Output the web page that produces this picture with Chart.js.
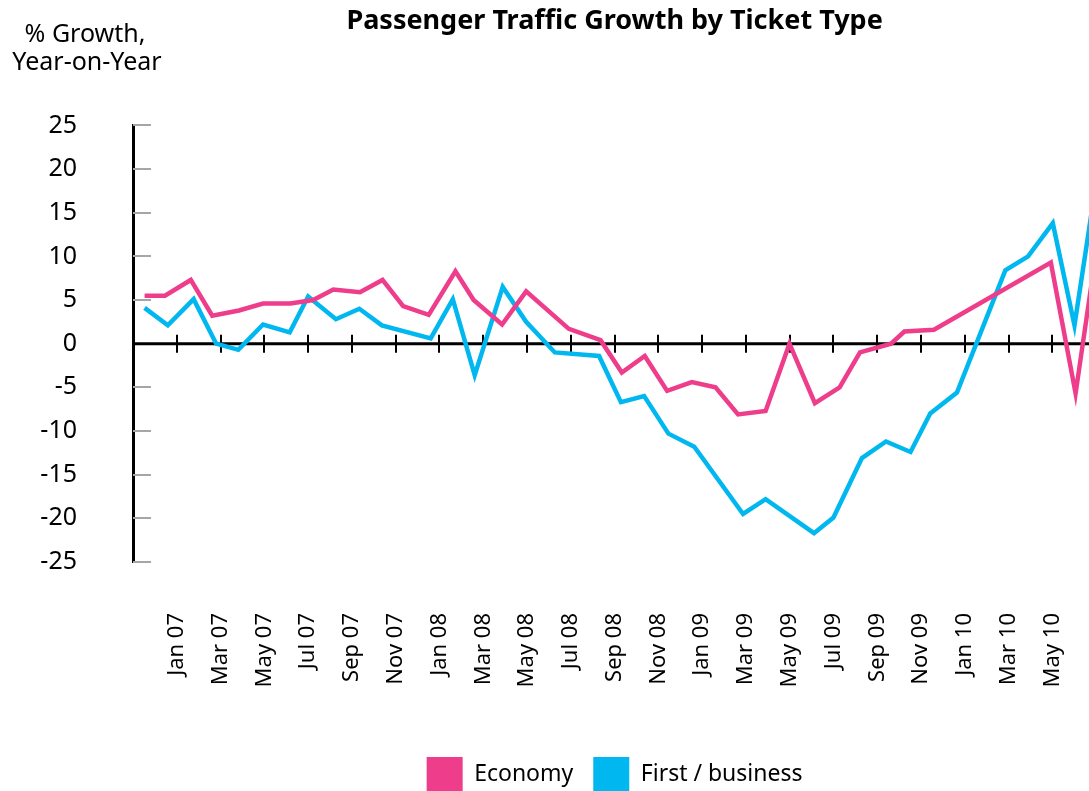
<!DOCTYPE html>
<html>
<head>
<meta charset="utf-8">
<title>Passenger Traffic Growth by Ticket Type</title>
<script src="https://cdn.jsdelivr.net/npm/chart.js@4.4.1/dist/chart.umd.min.js"></script>
<style>
    body { margin: 0; overflow: hidden; background: #fff; }
    #wrap { position: relative; width: 1123px; height: 801px; }
</style>
</head>
<body>
<div id="wrap"><canvas id="growthChart"></canvas></div>
<script>
// months counted from Jan 07 (= 0)
var tickMonths = [0, 2, 4, 6, 8, 10, 12, 14, 16, 18, 20, 22, 24, 26, 28, 30, 32, 34, 36, 38, 40]
var tickLabels = ["Jan 07", "Mar 07", "May 07", "Jul 07", "Sep 07", "Nov 07", "Jan 08", "Mar 08", "May 08", "Jul 08", "Sep 08",
    "Nov 08", "Jan 09", "Mar 09", "May 09", "Jul 09", "Sep 09", "Nov 09", "Jan 10", "Mar 10", "May 10"]

var economyMonths = [-1.47, -0.54, 0.64, 1.62, 2.84, 3.94, 5.19, 6.23, 7.15, 8.37, 9.40, 10.34, 11.51, 12.73, 13.56, 14.86, 15.96, 17.91,
    19.36, 20.33, 21.38, 22.40, 23.53, 24.61, 25.64, 26.90, 27.99, 29.15, 30.28, 31.21, 32.63, 33.24, 34.59, 39.93, 41.06, 42]
var economyValues = [5.5, 5.5, 7.3, 3.2, 3.8, 4.6, 4.6, 5.0, 6.2, 5.9, 7.3, 4.3, 3.3, 8.3, 5.0, 2.2, 6.0, 1.7,
    0.4, -3.3, -1.4, -5.4, -4.4, -5.0, -8.1, -7.7, 0.0, -6.8, -5.0, -1.0, 0.0, 1.4, 1.6, 9.3, -5.7, 10.5]

var businessMonths = [-1.47, -0.41, 0.77, 1.80, 2.81, 3.94, 5.16, 6.00, 7.27, 8.34, 9.37, 11.60, 12.61, 13.61, 14.89, 15.96, 17.27, 19.29,
    20.29, 21.35, 22.46, 23.64, 25.87, 26.90, 29.11, 30.00, 31.30, 32.40, 33.52, 34.42, 35.64, 37.85, 38.89, 40.02, 41.01, 42]
var businessValues = [4.1, 2.1, 5.1, 0.0, -0.7, 2.2, 1.3, 5.4, 2.8, 4.0, 2.1, 0.6, 5.1, -3.6, 6.5, 2.5, -1.0, -1.4,
    -6.7, -6.0, -10.3, -11.8, -19.5, -17.8, -21.7, -19.9, -13.1, -11.2, -12.4, -8.0, -5.6, 8.4, 10.0, 13.8, 2.1, 18.5]

var pink = "#ee3d8b"
var blue = "#00b8ef"

function toPoints(months, values) {
    return months.map(function (m, i) { return { x: m, y: values[i] } })
}

// zero line with month ticks, short grey ticks inside the y axis, y caption
var axisMarks = {
    id: "axisMarks",
    beforeDatasetsDraw: function (chart) {
        var ctx = chart.ctx
        var area = chart.chartArea
        var xs = chart.scales.x
        var ys = chart.scales.y
        var y0 = ys.getPixelForValue(0)
        ctx.save()
        ctx.strokeStyle = "#a6a6a6"
        ctx.lineWidth = 2
        ys.ticks.forEach(function (t) {
            if (t.value == 0) return
            var py = Math.round(ys.getPixelForValue(t.value))
            ctx.beginPath()
            ctx.moveTo(area.left, py)
            ctx.lineTo(area.left + 18, py)
            ctx.stroke()
        })
        ctx.strokeStyle = "#000"
        ctx.lineWidth = 3
        ctx.beginPath()
        ctx.moveTo(area.left, y0)
        ctx.lineTo(area.right, y0)
        ctx.stroke()
        ctx.lineWidth = 2
        tickMonths.forEach(function (m) {
            var px = Math.round(xs.getPixelForValue(m))
            ctx.beginPath()
            ctx.moveTo(px, y0 - 9)
            ctx.lineTo(px, y0 + 9)
            ctx.stroke()
        })
        ctx.restore()
    },
    afterDraw: function (chart) {
        var ctx = chart.ctx
        ctx.save()
        ctx.fillStyle = "#000"
        ctx.font = "25px 'Noto Sans'"
        ctx.textAlign = "center"
        ctx.fillText("% Growth,", 85, 35)
        ctx.fillText("Year-on-Year", 87, 63)
        ctx.restore()
    }
}

Chart.defaults.font.family = "'Noto Sans', sans-serif"
Chart.defaults.color = "#000"

new Chart(document.getElementById("growthChart").getContext("2d"), {
    type: "line",
    data: {
        datasets: [
            {
                label: "Economy",
                data: toPoints(economyMonths, economyValues),
                borderColor: pink,
                backgroundColor: pink,
                borderWidth: 4.5,
                pointRadius: 0,
                tension: 0,
                borderJoinStyle: "miter",
            },
            {
                label: "First / business",
                data: toPoints(businessMonths, businessValues),
                borderColor: blue,
                backgroundColor: blue,
                borderWidth: 4.5,
                pointRadius: 0,
                tension: 0,
                borderJoinStyle: "miter",
            },
        ],
    },
    options: {
        responsive: true,
        maintainAspectRatio: false,
        animation: false,
        layout: { padding: { left: 0, right: 6, top: 0, bottom: 0 } },
        plugins: {
            title: {
                display: true,
                text: "Passenger Traffic Growth by Ticket Type",
                fullSize: false,
                font: { size: 27, weight: "bold" },
                padding: { top: 5, bottom: 88 },
            },
            legend: {
                position: "bottom",
                fullSize: false,
                labels: {
                    boxWidth: 36,
                    boxHeight: 34,
                    padding: 20,
                    font: { size: 23 },
                    generateLabels: function (chart) {
                        return Chart.defaults.plugins.legend.labels.generateLabels(chart).map(function (l) {
                            l.lineWidth = 0
                            return l
                        })
                    },
                },
            },
            tooltip: { enabled: false },
        },
        scales: {
            x: {
                type: "linear",
                min: -2,
                max: 42,
                grid: { display: false },
                border: { display: false },
                afterBuildTicks: function (scale) {
                    scale.ticks = tickMonths.map(function (m) { return { value: m } })
                },
                afterFit: function (scale) { scale.height = 175 },
                ticks: {
                    autoSkip: false,
                    minRotation: 90,
                    maxRotation: 90,
                    padding: 43,
                    font: { size: 22 },
                    callback: function (value) { return tickLabels[tickMonths.indexOf(value)] },
                },
            },
            y: {
                min: -25,
                max: 25,
                grid: { display: false },
                border: { display: true, color: "#000", width: 3 },
                afterFit: function (scale) { scale.width = 133 },
                ticks: { stepSize: 5, padding: 48, font: { size: 25 } },
            },
        },
    },
    plugins: [axisMarks],
})
</script>
</body>
</html>
